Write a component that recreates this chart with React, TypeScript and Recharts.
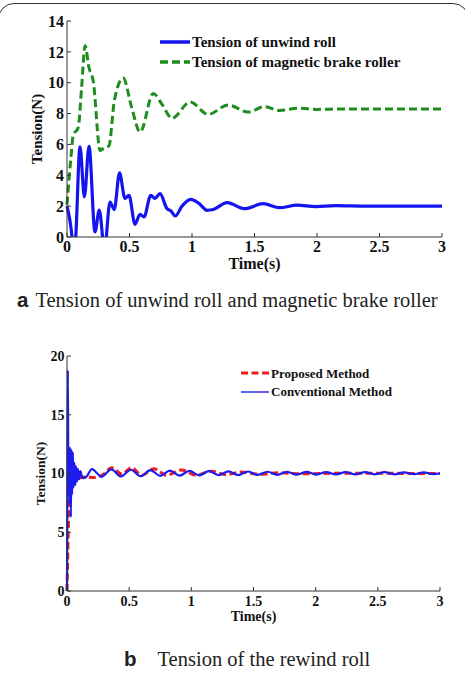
import React from "react";
import { Legend, Line, LineChart, XAxis, YAxis } from "recharts";

const SERIF = '"Liberation Serif", "Times New Roman", serif';
const SANS = '"Liberation Sans", Arial, sans-serif';

// shared time axis
const timeTicks = [0, 0.5, 1, 1.5, 2, 2.5, 3];

// (a) unwind roll / magnetic brake roller
const tensionTicksA = [0, 2, 4, 6, 8, 10, 12, 14];
const unwindTime = [
  0, 0.04, 0.055, 0.07, 0.104, 0.139, 0.176, 0.224, 0.258, 0.3, 0.344, 0.378, 0.42, 0.464,
  0.496, 0.544, 0.584, 0.616, 0.67, 0.704, 0.744, 0.8, 0.83, 0.866, 0.92, 0.99, 1.058, 1.12,
  1.17, 1.28, 1.42, 1.57, 1.7, 1.84, 1.99, 2.15, 2.4, 3.0,
];
const unwindTension = [
  2.0, 0, -1.5, 0, 5.85, 2.6, 5.88, 0.33, 1.75, -0.8, 2.27, 1.78, 4.15, 2.5,
  2.7, 0.82, 1.47, 1.3, 2.7, 2.5, 2.81, 1.84, 1.7, 1.36, 2.0, 2.44, 2.16, 1.73,
  1.78, 2.23, 1.84, 2.16, 1.9, 2.06, 1.97, 2.03, 2.0, 2.0,
];
const brakeTime = [
  0, 0.03, 0.05, 0.09, 0.117, 0.145, 0.175, 0.21, 0.265, 0.3, 0.335, 0.38, 0.45, 0.517,
  0.585, 0.69, 0.76, 0.84, 0.985, 1.13, 1.29, 1.45, 1.58, 1.7, 1.86, 2.0, 2.2, 3.0,
];
const brakeTension = [
  2.1, 5.0, 6.6, 7.1, 9.7, 12.4, 11.0, 10.1, 5.6, 5.8, 5.9, 8.9, 10.3, 8.4,
  6.8, 9.3, 8.6, 7.7, 8.75, 7.95, 8.55, 8.1, 8.45, 8.2, 8.35, 8.27, 8.3, 8.3,
];

// (b) rewind roll
const tensionTicksB = [0, 5, 10, 15, 20];
const proposedTime = [
  0, 0.006, 0.012, 0.02, 0.035, 0.06, 0.1, 0.15, 0.22, 0.29, 0.36, 0.44, 0.52, 0.6, 0.7,
  0.8, 0.92, 1.04, 1.16, 1.28, 1.4, 1.55, 1.7, 1.9, 2.2, 3.0,
];
const proposedTension = [
  0, 3, 6, 7.8, 8.8, 9.3, 9.6, 9.7, 9.65, 9.9, 10.5, 9.95, 10.5, 9.85, 10.4,
  9.85, 10.3, 9.85, 10.2, 9.9, 10.12, 9.93, 10.06, 9.97, 10.02, 10.0,
];
const conventionalTime = [
  0, 0.004, 0.007, 0.011, 0.016, 0.021, 0.026, 0.031, 0.036, 0.041, 0.047, 0.053, 0.06,
  0.066, 0.073, 0.08, 0.088, 0.097, 0.107, 0.125, 0.155, 0.2, 0.278, 0.357, 0.435, 0.514,
  0.592, 0.671, 0.75, 0.828, 0.906, 0.985, 1.063, 1.142, 1.22, 1.299, 1.377, 1.456, 1.534,
  1.613, 1.691, 1.77, 1.848, 1.927, 2.005, 2.084, 2.162, 2.241, 2.319, 2.398, 2.476, 2.555,
  2.633, 2.712, 2.79, 2.869, 2.947, 3.0,
];
const conventionalTension = [
  0, 12, 18.8, 9, 12.3, 7.5, 12.2, 6.3, 12.0, 8.2, 11.8, 8.8, 10.9,
  9.0, 10.6, 9.3, 10.4, 9.5, 10.2, 9.6, 9.7, 10.38, 9.72, 10.35, 9.75, 10.32,
  9.77, 10.28, 9.8, 10.25, 9.82, 10.22, 9.84, 10.2, 9.86, 10.18, 9.87, 10.17, 9.88,
  10.15, 9.89, 10.14, 9.9, 10.13, 9.91, 10.12, 9.92, 10.12, 9.92, 10.11, 9.93, 10.11,
  9.93, 10.1, 9.94, 10.1, 9.95, 10.02,
];

const zip = (ts: number[], vs: number[]) => ts.map((t, i) => ({ t, v: vs[i] }));

type LegendItem = { name: string; color: string; width: number; dash?: string };

const legendA: LegendItem[] = [
  { name: "Tension of unwind roll", color: "#1414f0", width: 3.5 },
  { name: "Tension of magnetic brake roller", color: "#1e8c1e", width: 3.5, dash: "8 4" },
];
const legendB: LegendItem[] = [
  { name: "Proposed Method", color: "#ee1c1c", width: 3, dash: "7 3.5" },
  { name: "Conventional Method", color: "#1c1cf0", width: 1.4 },
];

function LegendBlock({
  items,
  fontSize,
  rowHeight,
  sampleWidth,
}: {
  items: LegendItem[];
  fontSize: number;
  rowHeight: number;
  sampleWidth: number;
}) {
  return (
    <div style={{ fontFamily: SERIF, fontWeight: "bold", fontSize, color: "#111", lineHeight: 1 }}>
      {items.map((it) => (
        <div key={it.name} style={{ display: "flex", alignItems: "center", height: rowHeight }}>
          <svg width={sampleWidth} height={8} style={{ marginRight: 2, flex: "none" }}>
            <line
              x1={0}
              x2={sampleWidth}
              y1={4}
              y2={4}
              stroke={it.color}
              strokeWidth={it.width}
              strokeDasharray={it.dash}
            />
          </svg>
          <span style={{ whiteSpace: "nowrap" }}>{it.name}</span>
        </div>
      ))}
    </div>
  );
}

function YTitle({ viewBox, text, dx, fontSize }: any) {
  const cx = viewBox.x + dx;
  const cy = viewBox.y + viewBox.height / 2;
  return (
    <text
      x={cx}
      y={cy}
      transform={`rotate(-90, ${cx}, ${cy})`}
      textAnchor="middle"
      dominantBaseline="central"
      fontFamily={SERIF}
      fontWeight="bold"
      fontSize={fontSize}
      fill="#111"
    >
      {text}
    </text>
  );
}

function XTitle({ viewBox, text, dy, fontSize }: any) {
  return (
    <text
      x={viewBox.x + viewBox.width / 2}
      y={viewBox.y + dy}
      textAnchor="middle"
      dominantBaseline="central"
      fontFamily={SERIF}
      fontWeight="bold"
      fontSize={fontSize}
      fill="#111"
    >
      {text}
    </text>
  );
}

const axisLine = { stroke: "#333", strokeWidth: 1 };

export default function App() {
  const tickA = { fill: "#111", fontSize: 16, fontWeight: "bold", fontFamily: SERIF };
  const tickB = { fill: "#111", fontSize: 14, fontWeight: "bold", fontFamily: SERIF };

  return (
    <div
      style={{
        position: "absolute",
        left: 0,
        top: 0,
        width: 465,
        height: 675,
        overflow: "hidden",
        background: "#fff",
      }}
    >
      {/* figure frame */}
      <div
        style={{
          position: "absolute",
          left: -2,
          top: 3,
          width: 471,
          height: 760,
          boxSizing: "border-box",
          border: "1.5px solid #333",
          borderRadius: 16,
        }}
      />

      <div style={{ position: "absolute", left: 0, top: 0 }}>
        <LineChart width={465} height={280} margin={{ top: 21, right: 23, left: 27, bottom: 13 }}>
          <XAxis
            type="number"
            dataKey="t"
            domain={[0, 3]}
            ticks={timeTicks}
            height={30}
            axisLine={axisLine}
            tickLine={axisLine}
            tickSize={-4}
            tickMargin={8}
            tick={tickA}
            label={<XTitle text="Time(s)" dy={26} fontSize={16} />}
          />
          <YAxis
            type="number"
            domain={[0, 14]}
            ticks={tensionTicksA}
            allowDataOverflow
            width={40}
            axisLine={axisLine}
            tickLine={axisLine}
            tickSize={-4}
            tickMargin={7}
            tick={tickA}
            label={<YTitle text="Tension(N)" dx={10} fontSize={15} />}
          />
          <Legend
            layout="horizontal"
            verticalAlign="middle"
            align="center"
            wrapperStyle={{ left: 160, top: 32, width: "auto" }}
            content={() => (
              <LegendBlock items={legendA} fontSize={15} rowHeight={20} sampleWidth={30} />
            )}
          />
          <Line
            data={zip(brakeTime, brakeTension)}
            dataKey="v"
            type="monotone"
            stroke={legendA[1].color}
            strokeWidth={3}
            strokeDasharray="8 4"
            dot={false}
            isAnimationActive={false}
          />
          <Line
            data={zip(unwindTime, unwindTension)}
            dataKey="v"
            type="monotone"
            stroke={legendA[0].color}
            strokeWidth={3.2}
            dot={false}
            isAnimationActive={false}
          />
        </LineChart>
      </div>

      <div
        style={{
          position: "absolute",
          left: 17,
          top: 290,
          fontSize: 20.5,
          fontFamily: SERIF,
          color: "#222",
          whiteSpace: "nowrap",
          lineHeight: 1,
        }}
      >
        <span style={{ fontFamily: SANS, fontWeight: "bold", marginRight: 7 }}>a</span>
        Tension of unwind roll and magnetic brake roller
      </div>

      <div style={{ position: "absolute", left: 0, top: 330 }}>
        <LineChart width={465} height={302} margin={{ top: 26, right: 25, left: 27, bottom: 17 }}>
          <XAxis
            type="number"
            dataKey="t"
            domain={[0, 3]}
            ticks={timeTicks}
            height={24}
            axisLine={axisLine}
            tickLine={axisLine}
            tickSize={-4}
            tickMargin={9}
            tick={tickB}
            label={<XTitle text="Time(s)" dy={25} fontSize={14} />}
          />
          <YAxis
            type="number"
            domain={[0, 20]}
            ticks={tensionTicksB}
            width={40}
            axisLine={axisLine}
            tickLine={axisLine}
            tickSize={-4}
            tickMargin={6.5}
            tick={tickB}
            label={<YTitle text="Tension(N)" dx={13} fontSize={13.5} />}
          />
          <Legend
            layout="horizontal"
            verticalAlign="middle"
            align="center"
            wrapperStyle={{ left: 241, top: 34, width: "auto" }}
            content={() => (
              <LegendBlock items={legendB} fontSize={13} rowHeight={18.4} sampleWidth={28} />
            )}
          />
          <Line
            data={zip(proposedTime, proposedTension)}
            dataKey="v"
            type="monotone"
            stroke={legendB[0].color}
            strokeWidth={3}
            strokeDasharray="7 3.5"
            dot={false}
            isAnimationActive={false}
          />
          <Line
            data={zip(conventionalTime, conventionalTension)}
            dataKey="v"
            type="monotone"
            stroke={legendB[1].color}
            strokeWidth={2.2}
            dot={false}
            isAnimationActive={false}
          />
        </LineChart>
      </div>

      <div
        style={{
          position: "absolute",
          left: 124,
          top: 649,
          fontSize: 20.5,
          fontFamily: SERIF,
          color: "#222",
          whiteSpace: "nowrap",
          lineHeight: 1,
        }}
      >
        <span style={{ fontFamily: SANS, fontWeight: "bold", marginRight: 21 }}>b</span>
        Tension of the rewind roll
      </div>
    </div>
  );
}
